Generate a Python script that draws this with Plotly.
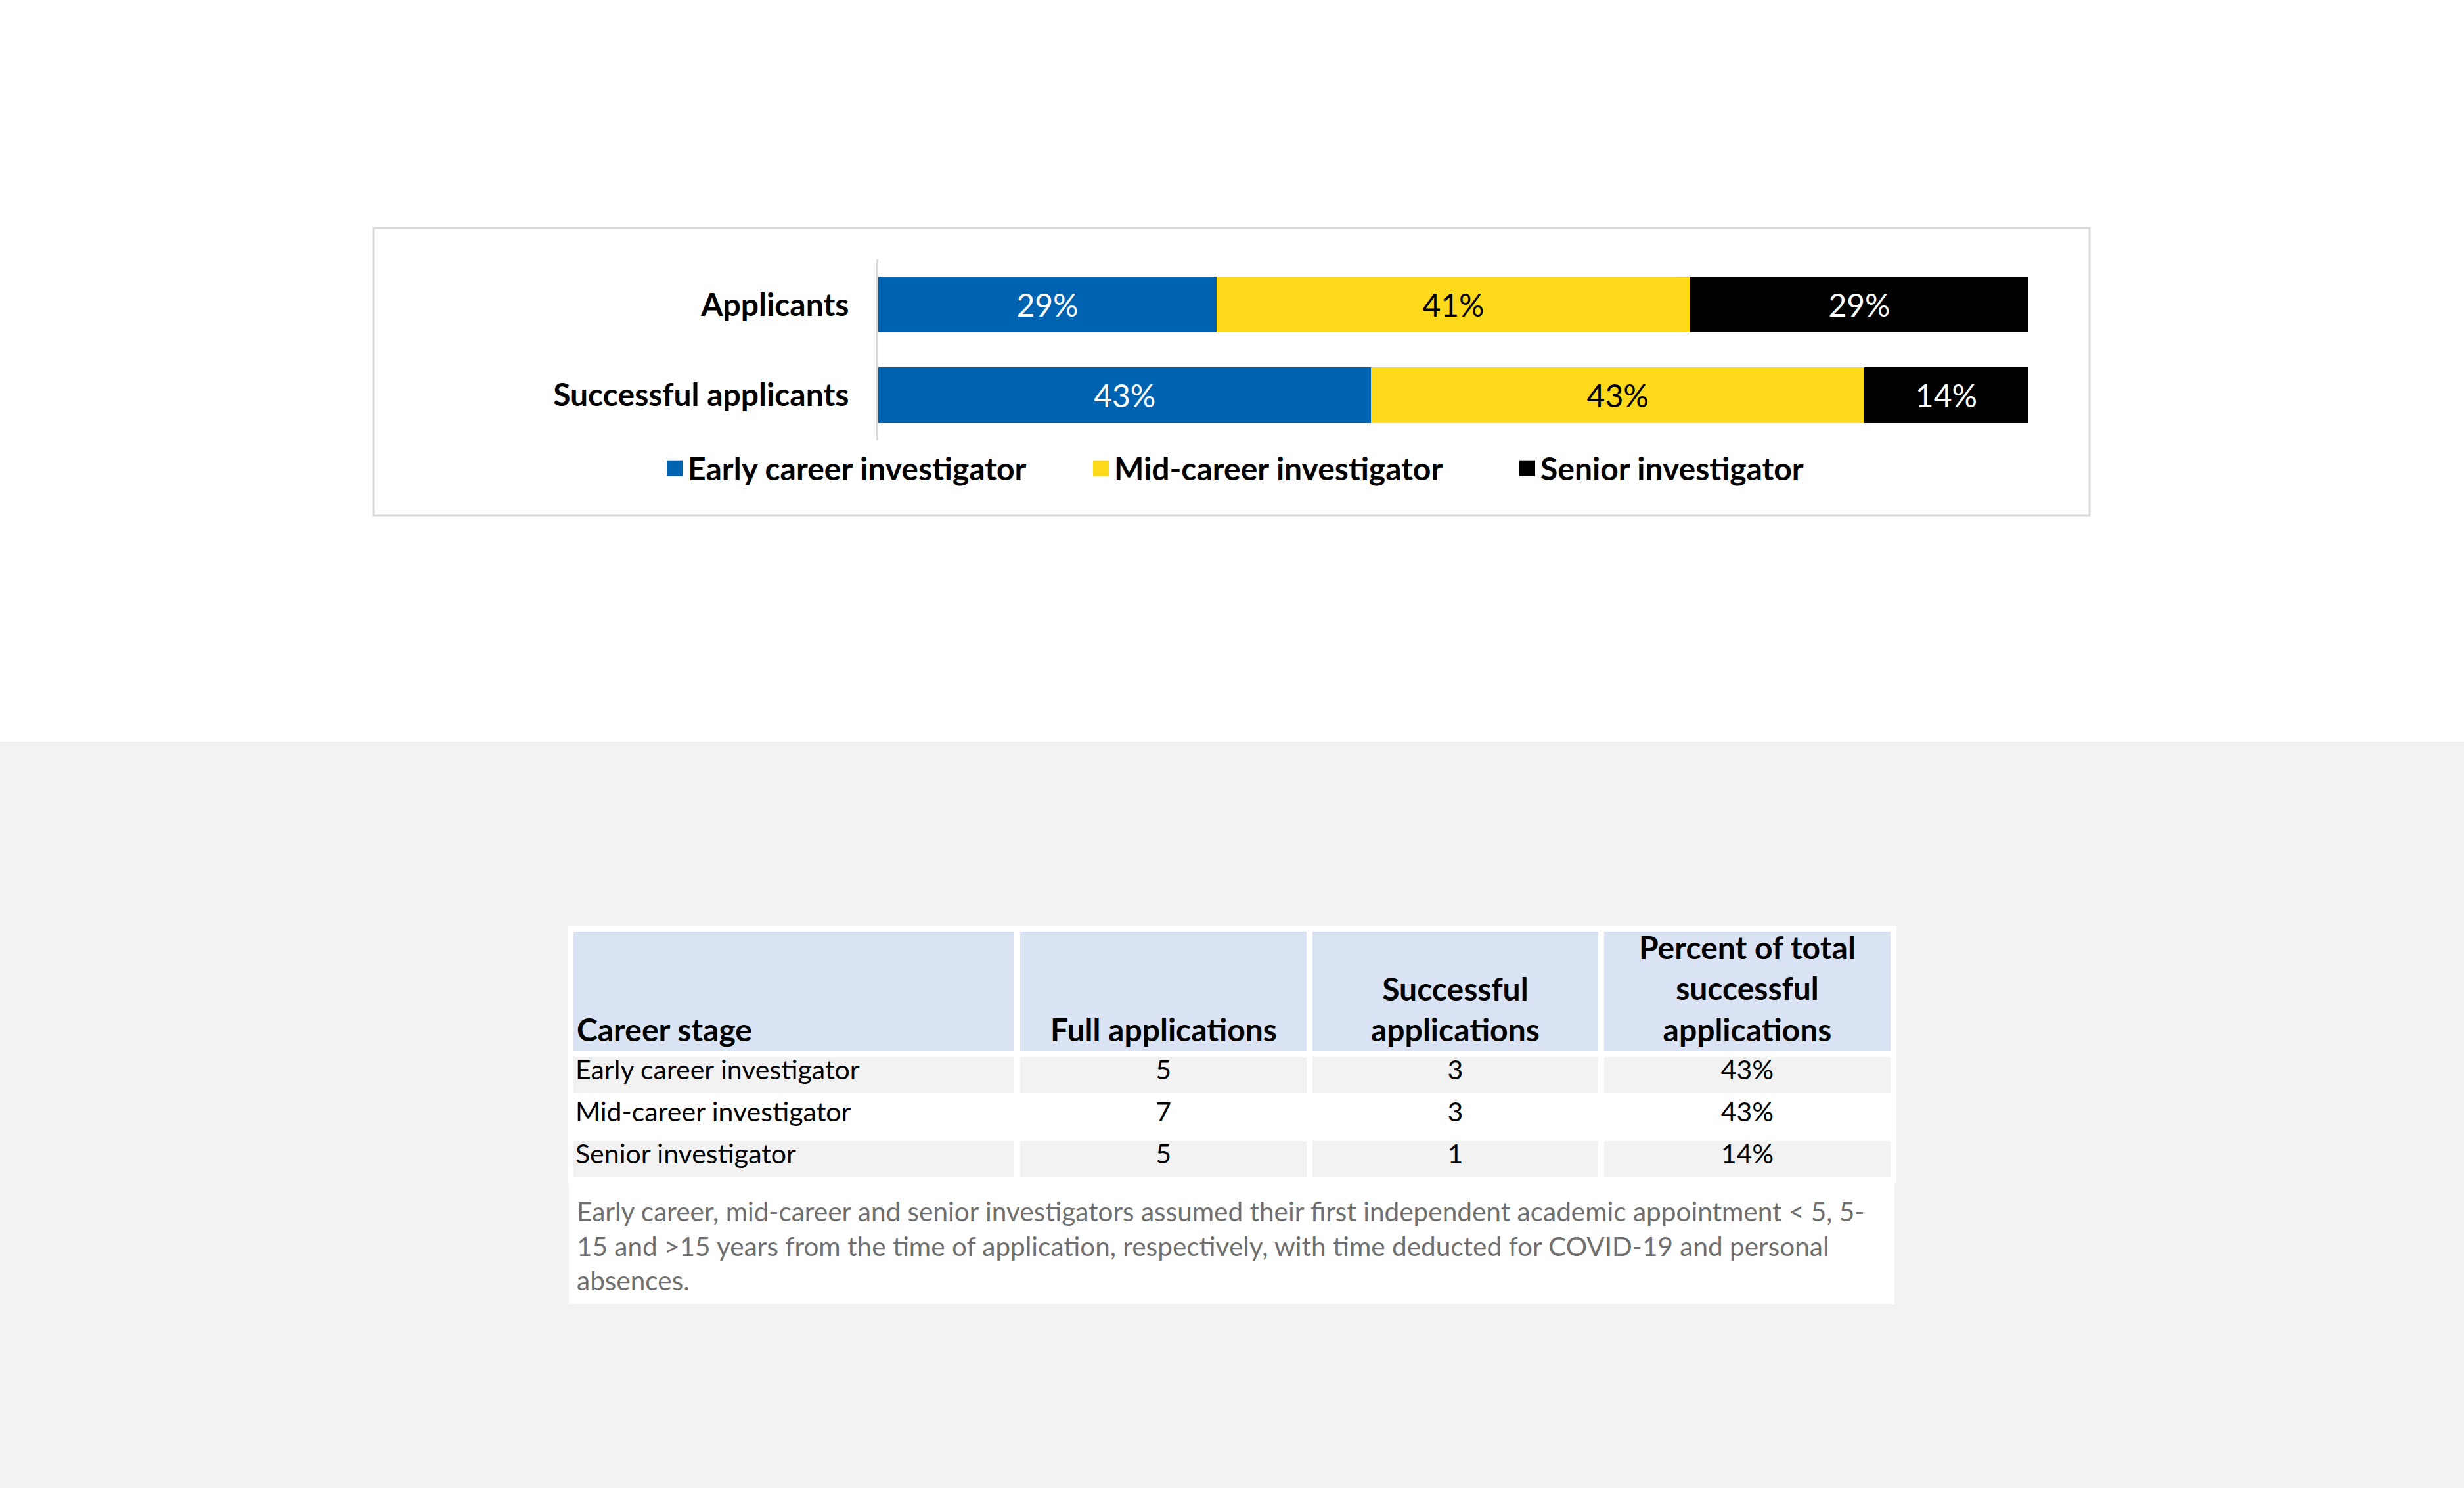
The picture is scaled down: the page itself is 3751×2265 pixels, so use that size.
import plotly.graph_objects as go

# Data
stages = ["Early career investigator", "Mid-career investigator", "Senior investigator"]
full_applications = [5, 7, 5]
successful_applications = [3, 3, 1]
groups = ["Applicants", "Successful applicants"]
columns = ["Career stage", "Full applications", "Successful<br>applications",
           "Percent of total<br>successful<br>applications"]
colors = ["#0063b1", "#fdd91c", "#000000"]
text_colors = ["white", "black", "white"]

tot_full = sum(full_applications)
tot_succ = sum(successful_applications)
pct_full = [100 * v / tot_full for v in full_applications]
pct_succ = [100 * v / tot_succ for v in successful_applications]

FONT = "Lato"
W, H = 3751, 2265

fig = go.Figure()

# Stacked bars
for i, stage in enumerate(stages):
    fig.add_trace(go.Bar(
        y=groups,
        x=[pct_full[i], pct_succ[i]],
        name=stage,
        orientation="h",
        marker=dict(color=colors[i], line=dict(width=0)),
        texttemplate="%{x:.0f}%",
        textposition="inside",
        insidetextanchor="middle",
        textangle=0,
        insidetextfont=dict(family=FONT, size=48, color=text_colors[i]),
        hoverinfo="skip",
    ))

# Table (header text is drawn as annotations so multi-line titles stay centred)
tbl_x0, tbl_x1 = 868, 2882
tbl_top = 1413
col_w = [282, 184, 184, 184]
pct_text = ["%.0f%%" % v for v in pct_succ]
row_fill = ["#f2f2f2", "white", "#f2f2f2"]

fig.add_trace(go.Table(
    domain=dict(x=[tbl_x0 / W, tbl_x1 / W], y=[0.10, 1 - tbl_top / H]),
    columnwidth=col_w,
    header=dict(
        values=[""] * 4,
        fill_color="#dae3f3",
        line=dict(color="white", width=9),
        height=191,
    ),
    cells=dict(
        values=[stages, full_applications, successful_applications, pct_text],
        fill_color=[row_fill] * 4,
        line=dict(color="white", width=9),
        align=["left", "center", "center", "center"],
        font=dict(family=FONT, size=41, color="black"),
        height=64,
    ),
))

annotations = []
edges = [tbl_x0]
for w in col_w:
    edges.append(edges[-1] + (tbl_x1 - tbl_x0) * w / sum(col_w))
for j, title in enumerate(columns):
    if j == 0:
        xa, anchor = edges[0] + 8, "left"
    else:
        xa, anchor = (edges[j] + edges[j + 1]) / 2, "center"
    annotations.append(dict(
        xref="paper", yref="paper", x=xa / W, y=1 - 1597 / H,
        xanchor=anchor, yanchor="bottom", align=anchor, showarrow=False,
        text=title, font=dict(family=FONT, size=48, color="black", weight="bold"),
    ))

note = ("Early career, mid-career and senior investigators assumed their first independent academic appointment &lt; 5, 5-<br>"
        "15 and &gt;15 years from the time of application, respectively, with time deducted for COVID-19 and personal<br>"
        "absences.")
annotations.append(dict(
    xref="paper", yref="paper", x=876 / W, y=1 - 1817 / H,
    xanchor="left", yanchor="top", align="left", showarrow=False,
    text=note, font=dict(family=FONT, size=40.5, color="#6f6f6f"),
))

shapes = [
    # gray lower background
    dict(type="rect", xref="paper", yref="paper", x0=0, x1=1, y0=0, y1=1 - 1129 / H,
         fillcolor="#f2f2f2", line=dict(width=0), layer="below"),
    # white table panel
    dict(type="rect", xref="paper", yref="paper", x0=866 / W, x1=2884 / W,
         y0=1 - 1985 / H, y1=1 - tbl_top / H,
         fillcolor="white", line=dict(width=0), layer="below"),
    # chart border
    dict(type="rect", xref="paper", yref="paper", x0=569 / W, x1=3181 / W,
         y0=1 - 785 / H, y1=1 - 347 / H,
         fillcolor="rgba(0,0,0,0)", line=dict(color="#d9d9d9", width=3), layer="below"),
]

fig.update_layout(
    width=W, height=H,
    margin=dict(l=0, r=0, t=0, b=0),
    paper_bgcolor="white",
    plot_bgcolor="white",
    barmode="stack",
    bargap=0.38,
    font=dict(family=FONT, color="black"),
    shapes=shapes,
    annotations=annotations,
    xaxis=dict(domain=[1337 / W, 3088 / W], range=[0, 100], visible=False, fixedrange=True),
    yaxis=dict(
        domain=[1 - 670 / H, 1 - 395 / H],
        autorange="reversed",
        showline=True, linecolor="#d9d9d9", linewidth=3,
        showgrid=False, ticks="",
        ticklabelstandoff=32,
        tickfont=dict(family=FONT, size=48, color="black", weight="bold"),
    ),
    legend=dict(
        orientation="h",
        x=1007 / W, xanchor="left",
        y=1 - 713 / H, yanchor="middle",
        font=dict(family=FONT, size=48, color="black", weight="bold"),
        traceorder="normal",
        itemwidth=30,
        entrywidth=604, entrywidthmode="pixels",
    ),
)

# remove page margin and enlarge the legend squares
post = """
document.body.style.margin = '0px';
function bigSquares() {
    document.querySelectorAll('g.legendpoints path').forEach(function (p) {
        p.setAttribute('d', 'M12,12H-12V-12H12Z');
    });
}
bigSquares();
setTimeout(bigSquares, 500);
setTimeout(bigSquares, 1500);
"""
fig.write_html("out.html", config={"displayModeBar": False}, post_script=post)
